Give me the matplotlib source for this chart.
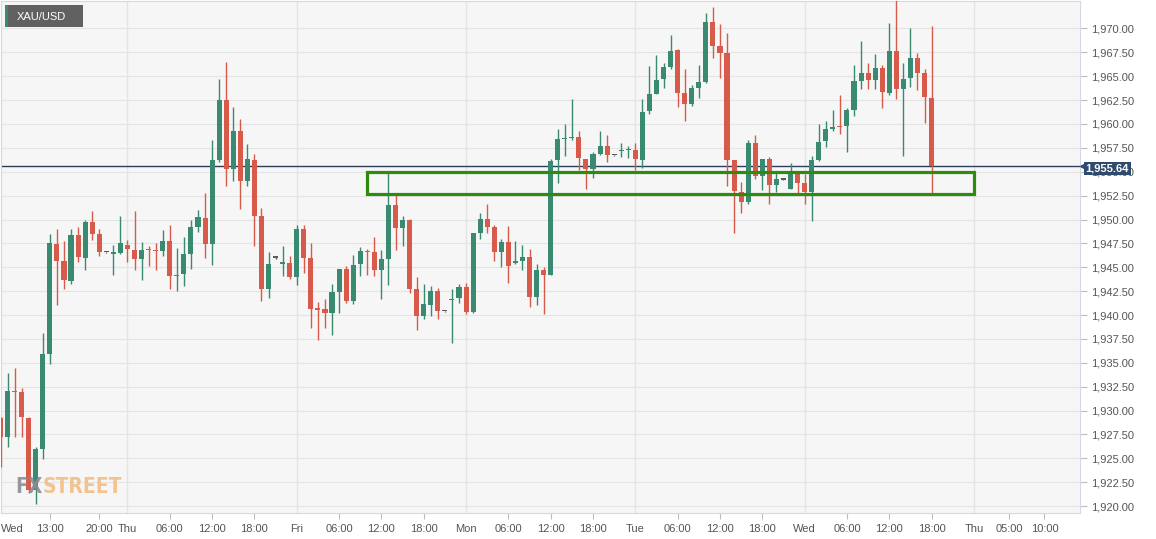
import matplotlib
matplotlib.use("Agg")
import matplotlib.pyplot as plt
import matplotlib.transforms as mtransforms
from matplotlib.patches import Rectangle
from matplotlib import font_manager
import numpy as np

# ---------------- data (hourly XAU/USD candles) ----------------
opens = [1929.17, 1927.25, 1932.03, 1931.89, 1929.17, 1921.67, 1925.96, 1935.93, 1947.48, 1945.70,
         1943.60, 1948.38, 1946.01, 1949.71, 1948.45, 1946.55, 1946.40, 1946.50, 1947.37, 1946.85,
         1945.87, 1946.88, 1946.78, 1946.74, 1947.79, 1944.06, 1944.30, 1946.43, 1949.18, 1950.20,
         1947.48, 1956.19, 1962.54, 1955.29, 1959.23, 1954.07, 1956.19, 1950.37, 1942.70, 1945.98,
         1945.39, 1945.45, 1943.99, 1949.05, 1945.94, 1940.64, 1940.68, 1940.26, 1942.39, 1944.83,
         1941.44, 1945.32, 1946.68, 1946.64, 1944.69, 1945.91, 1951.49, 1949.12, 1949.99, 1942.73,
         1939.87, 1941.02, 1942.49, 1940.40, 1941.52, 1941.79, 1942.91, 1940.33, 1948.63, 1950.09,
         1949.18, 1946.57, 1947.62, 1945.42, 1945.66, 1946.05, 1941.86, 1944.69, 1944.16, 1956.19,
         1958.39, 1958.49, 1958.63, 1956.37, 1955.29, 1956.86, 1957.69, 1956.72, 1957.13, 1957.24,
         1957.31, 1956.19, 1961.35, 1963.17, 1964.67, 1965.95, 1967.70, 1963.24, 1962.12, 1963.79,
         1964.35, 1970.73, 1968.15, 1967.42, 1956.19, 1952.88, 1951.84, 1958.04, 1954.55, 1956.33,
         1953.65, 1954.17, 1953.23, 1954.90, 1953.86, 1952.88, 1956.26, 1958.18, 1959.43, 1959.75,
         1959.75, 1961.49, 1964.49, 1965.33, 1964.56, 1965.89, 1963.27, 1967.63, 1963.69, 1964.84,
         1966.93, 1965.33, 1962.68]
highs = [1929.30, 1933.98, 1934.40, 1932.31, 1929.30, 1926.20, 1938.07, 1948.52, 1949.04, 1947.72,
         1949.04, 1949.22, 1949.99, 1950.93, 1949.04, 1946.60, 1947.37, 1950.33, 1947.89, 1950.86,
         1947.68, 1947.20, 1947.54, 1948.87, 1949.39, 1947.06, 1948.17, 1949.99, 1951.03, 1952.81,
         1958.36, 1964.74, 1966.48, 1961.77, 1960.55, 1957.94, 1956.89, 1951.24, 1946.57, 1946.05,
         1947.27, 1946.19, 1949.39, 1949.39, 1947.58, 1941.38, 1941.72, 1943.29, 1944.83, 1945.14,
         1946.33, 1947.13, 1946.88, 1948.17, 1946.85, 1954.87, 1952.53, 1950.33, 1950.09, 1943.99,
         1943.29, 1943.05, 1942.84, 1940.45, 1942.77, 1943.29, 1943.40, 1948.63, 1950.72, 1951.66,
         1949.46, 1948.00, 1949.29, 1947.79, 1947.30, 1946.95, 1945.38, 1945.04, 1956.30, 1959.47,
         1960.03, 1962.57, 1959.23, 1956.37, 1957.03, 1959.23, 1958.81, 1956.77, 1958.04, 1957.73,
         1958.04, 1962.64, 1966.03, 1967.18, 1966.37, 1969.37, 1967.87, 1965.78, 1964.04, 1966.20,
         1971.64, 1972.23, 1970.49, 1969.55, 1956.19, 1953.93, 1958.29, 1958.88, 1956.37, 1956.54,
         1954.90, 1954.22, 1955.91, 1954.90, 1954.80, 1956.61, 1960.03, 1960.27, 1961.49, 1963.06,
         1961.67, 1966.20, 1968.67, 1966.41, 1967.35, 1966.20, 1970.59, 1973.50, 1966.41, 1970.07,
         1967.46, 1965.78, 1970.21]
lows = [1924.11, 1926.21, 1927.25, 1927.25, 1921.36, 1920.21, 1924.88, 1934.82, 1941.02, 1942.77,
        1943.29, 1945.56, 1944.69, 1947.82, 1946.15, 1946.50, 1944.23, 1946.43, 1945.52, 1944.76,
        1943.71, 1945.10, 1944.76, 1946.22, 1942.77, 1942.49, 1943.01, 1944.79, 1948.70, 1946.01,
        1945.21, 1956.02, 1953.47, 1953.99, 1951.14, 1953.47, 1947.20, 1941.44, 1941.83, 1945.91,
        1944.09, 1943.82, 1943.19, 1944.44, 1938.69, 1937.37, 1938.66, 1937.89, 1940.26, 1941.30,
        1941.20, 1944.06, 1944.16, 1944.09, 1941.72, 1943.12, 1946.85, 1947.27, 1942.35, 1938.41,
        1939.56, 1939.91, 1939.63, 1940.35, 1937.12, 1941.30, 1940.08, 1940.26, 1948.00, 1948.63,
        1945.70, 1945.04, 1943.36, 1945.32, 1944.69, 1940.85, 1941.02, 1940.15, 1944.16, 1953.82,
        1956.61, 1958.28, 1955.15, 1953.23, 1954.38, 1956.75, 1956.02, 1956.67, 1956.54, 1956.47,
        1955.22, 1955.43, 1961.07, 1963.13, 1963.79, 1965.78, 1961.77, 1960.31, 1961.91, 1962.75,
        1964.28, 1966.93, 1964.84, 1953.47, 1948.59, 1950.72, 1951.66, 1954.20, 1953.12, 1951.59,
        1952.88, 1954.12, 1953.23, 1952.81, 1951.59, 1949.85, 1956.12, 1957.59, 1959.26, 1958.98,
        1957.06, 1960.86, 1963.69, 1963.69, 1963.69, 1961.70, 1962.99, 1962.64, 1956.68, 1963.86,
        1963.59, 1960.10, 1952.78]
closes = [1927.25, 1932.03, 1931.89, 1929.27, 1921.67, 1925.96, 1935.93, 1947.54, 1945.70, 1943.64,
          1948.38, 1946.05, 1949.71, 1948.52, 1946.57, 1946.55, 1946.50, 1947.54, 1946.88, 1945.84,
          1946.85, 1946.78, 1946.67, 1947.79, 1944.06, 1944.23, 1946.39, 1949.18, 1950.23, 1947.44,
          1956.19, 1962.54, 1955.29, 1959.23, 1954.07, 1956.30, 1950.41, 1942.70, 1945.32, 1945.98,
          1945.52, 1943.99, 1948.98, 1945.98, 1940.64, 1940.54, 1940.26, 1942.39, 1944.83, 1941.44,
          1945.28, 1946.68, 1946.57, 1944.69, 1945.91, 1951.49, 1949.12, 1949.99, 1942.77, 1939.87,
          1941.13, 1942.49, 1940.43, 1940.40, 1941.65, 1942.94, 1940.33, 1948.63, 1950.09, 1949.18,
          1946.57, 1947.62, 1945.14, 1945.63, 1946.05, 1941.86, 1944.69, 1944.20, 1956.12, 1958.39,
          1958.53, 1958.67, 1956.44, 1955.29, 1956.86, 1957.73, 1956.79, 1956.72, 1957.24, 1957.34,
          1956.30, 1961.28, 1963.10, 1964.60, 1965.95, 1967.63, 1963.24, 1962.12, 1963.76, 1964.35,
          1970.73, 1968.15, 1967.46, 1956.26, 1952.95, 1951.84, 1958.04, 1954.55, 1956.37, 1953.65,
          1954.21, 1954.17, 1954.90, 1953.86, 1952.88, 1956.19, 1958.11, 1959.43, 1959.68, 1959.64,
          1961.42, 1964.46, 1965.33, 1964.63, 1965.89, 1963.31, 1967.63, 1963.69, 1964.67, 1966.93,
          1965.33, 1962.82, 1955.64]

symbol = "XAU/USD"
day_labels = ["Wed", "Thu", "Fri", "Mon", "Tue", "Wed", "Thu"]
day_positions = [0, 18, 42, 66, 90, 114, 138]
hour_labels = ["13:00", "20:00",
               "06:00", "12:00", "18:00",
               "06:00", "12:00", "18:00",
               "06:00", "12:00", "18:00",
               "06:00", "12:00", "18:00",
               "06:00", "12:00", "18:00",
               "05:00", "10:00"]
hour_positions = [7, 14, 24, 30, 36, 48, 54, 60, 72, 78, 84, 96, 102, 108,
                  120, 126, 132, 143, 148]
price_ticks = list(np.arange(1920.0, 1970.01, 2.5))
zone_start, zone_end = 52, 138
zone_low, zone_high = 1952.69, 1954.94

# ---------------- style ----------------
plt.rcParams["font.family"] = ["Liberation Sans", "DejaVu Sans"]
GREEN = "#3a8a72"
RED = "#d75a4a"
FLAT = "#5a5a5a"
GRID = "#e4e4e4"
SPINE = "#d3d8e2"
TXT = "#555555"
NAVY = "#2e4a6d"

W, H = 1156, 539
fig = plt.figure(figsize=(W / 100, H / 100), dpi=100, facecolor="white")
ax = fig.add_axes([0.5 / W, 26 / H, 1079 / W, 512.5 / H])
ax.set_facecolor("#f6f6f6")

ax.set_xlim(0.03, 152.97)
ax.set_ylim(1919.27, 1972.93)

# grid
for p in price_ticks:
    ax.axhline(p, color=GRID, lw=0.8, zorder=0)
for d in day_positions[1:]:
    ax.axvline(d, color=GRID, lw=1.0, zorder=0)

# candles
n = len(opens)
xs = np.arange(n)
o = np.array(opens); c = np.array(closes); hi = np.array(highs); lo = np.array(lows)
colors = [GREEN if cc > oo else (RED if cc < oo else FLAT) for oo, cc in zip(o, c)]
body_bottom = np.minimum(o, c)
body_h = np.maximum(np.abs(c - o), 0.16)
ax.vlines(xs, lo, hi, colors=colors, lw=1.0, zorder=3)
ax.bar(xs, body_h, bottom=body_bottom, width=0.72, color=colors,
       edgecolor="none", zorder=4)

# last price line
last = closes[-1]
ax.axhline(last, color="#2c3e5a", lw=1.0, zorder=2)

# support zone rectangle
ax.add_patch(Rectangle((zone_start, zone_low), zone_end - zone_start,
                       zone_high - zone_low, fill=False, edgecolor="#2e8b0e",
                       lw=2.3, zorder=6))

# spines
for s in ax.spines.values():
    s.set_color(SPINE)
    s.set_linewidth(0.8)

# y axis right
ax.yaxis.tick_right()
ax.set_yticks(price_ticks)
ax.set_yticklabels([f"{p:,.2f}" for p in price_ticks])
ax.tick_params(axis="y", length=5, width=0.8, color="#bcbcbc",
               labelsize=8, labelcolor=TXT, pad=3)

# x axis
ax.set_xticks(hour_positions)
ax.set_xticklabels(hour_labels)
ax.set_xticks(day_positions, minor=True)
ax.set_xticklabels(day_labels, minor=True)
ax.tick_params(axis="x", which="major", length=4, width=0.8, color="#bcbcbc",
               labelsize=8, labelcolor=TXT, pad=4)
ax.tick_params(axis="x", which="minor", length=4, width=0.8, color=(0, 0, 0, 0),
               labelsize=8, labelcolor=TXT, pad=4)
ax.get_xticklabels(minor=True)[0].set_horizontalalignment("left")

# current price tag (sits just below the price line, pointer at line level)
trans = mtransforms.blended_transform_factory(ax.transAxes, ax.transData)
tag_trans = trans + mtransforms.ScaledTranslation(0, -3 / 100, fig.dpi_scale_trans)
ax.text(1.0 + 6 / 1079, last, f"{last:,.2f}", transform=tag_trans, ha="left",
        va="center", color="white", fontsize=8, fontweight="bold",
        bbox=dict(boxstyle="square,pad=0.15", fc=NAVY, ec="none"),
        zorder=10, clip_on=False)
ax.plot([1.0 + 3 / 1079], [last], marker="<", ms=5, color=NAVY,
        transform=trans, clip_on=False, zorder=10)

# symbol badge
fig.patches.append(Rectangle((5 / W, 1 - 27 / H), 78 / W, 22 / H,
                             transform=fig.transFigure, fc="#616161",
                             ec="none", zorder=5))
fig.patches.append(Rectangle((5 / W, 1 - 27 / H), 2.5 / W, 22 / H,
                             transform=fig.transFigure, fc=GREEN,
                             ec="none", zorder=6))
fig.text(17 / W, 1 - 16.5 / H, symbol, color="white", fontsize=8,
         va="center", ha="left", zorder=7)

# watermark
names = {f.name for f in font_manager.fontManager.ttflist}
if "Liberation Sans Narrow" in names:
    wm_family, wm_size = ["Liberation Sans Narrow"], 19
else:
    wm_family, wm_size = ["DejaVu Sans"], 15
t1 = fig.text(15 / W, 1 - 493 / H, "FX", color="#8c8c95", alpha=0.9,
              fontsize=wm_size, fontweight="bold", family=wm_family,
              fontstretch="condensed", ha="left", va="baseline", zorder=8)
fig.canvas.draw()
bb = t1.get_window_extent()
fig.text(bb.x1 / W, 1 - 493 / H, "STREET", color="#f2bd84", alpha=0.9,
         fontsize=wm_size, fontweight="bold", family=wm_family,
         fontstretch="condensed", ha="left", va="baseline", zorder=8)

fig.savefig("out.png", dpi=100, facecolor="white")
